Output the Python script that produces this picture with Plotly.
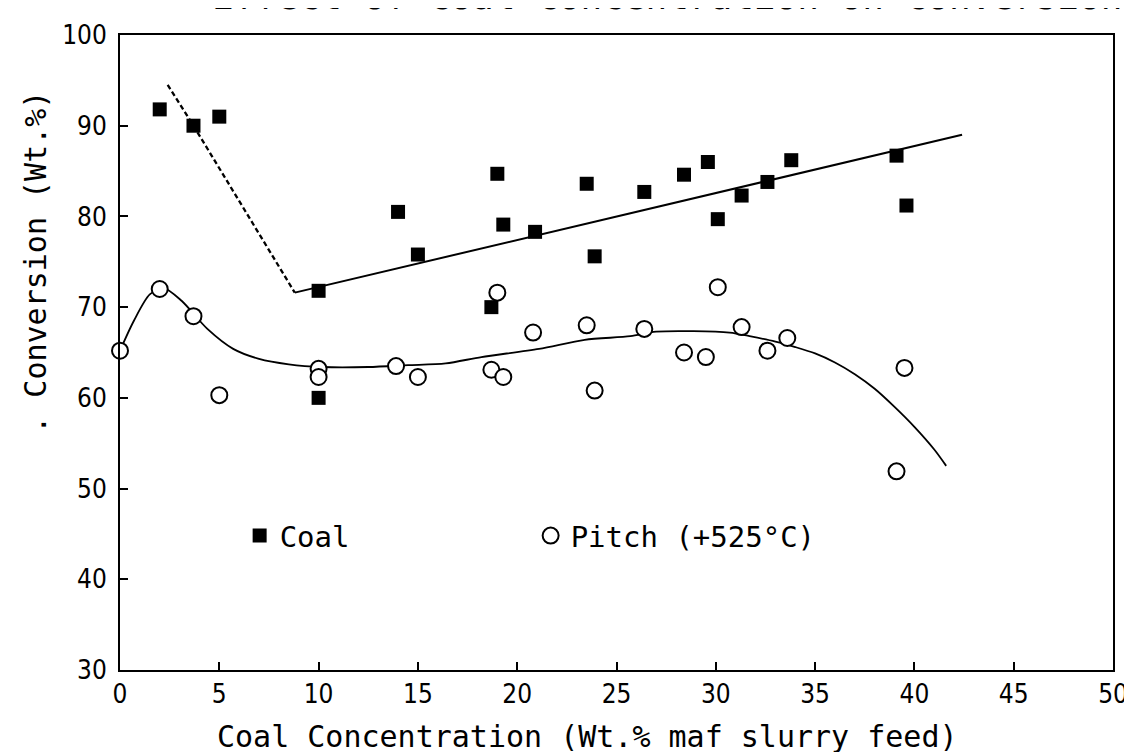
import plotly.graph_objects as go

# ---- data ----
coal_x = [2.0, 3.7, 5.0, 10.0, 10.0, 14.0, 15.0, 18.7, 19.0, 19.3, 20.9, 23.5, 23.9,
          26.4, 28.4, 29.6, 30.1, 31.3, 32.6, 33.8, 39.1, 39.6]
coal_y = [91.8, 90.0, 91.0, 71.8, 60.0, 80.5, 75.8, 70.0, 84.7, 79.1, 78.3, 83.6, 75.6,
          82.7, 84.6, 86.0, 79.7, 82.3, 83.8, 86.2, 86.7, 81.2]

pitch_x = [0.0, 2.0, 3.7, 5.0, 10.0, 10.0, 13.9, 15.0, 18.7, 19.0, 19.3, 20.8, 23.5,
           23.9, 26.4, 28.4, 29.5, 30.1, 31.3, 32.6, 33.6, 39.1, 39.5]
pitch_y = [65.2, 72.0, 69.0, 60.3, 63.2, 62.3, 63.5, 62.3, 63.1, 71.6, 62.3, 67.2, 68.0,
           60.8, 67.6, 65.0, 64.5, 72.2, 67.8, 65.2, 66.6, 51.9, 63.3]

# coal trend: dashed part and straight solid part
coal_dash_x = [2.4, 3.0, 3.7, 8.8]
coal_dash_y = [94.5, 92.4, 90.0, 71.6]
coal_fit_x = [8.8, 42.4]
coal_fit_y = [71.6, 89.0]

# pitch smoothed curve
pitch_fit_x = [0.0, 0.7, 1.5, 2.2, 3.1, 4.4, 5.7, 7.0, 8.5, 10.2, 12.5, 14.5, 16.4,
               18.2, 21.1, 23.4, 25.7, 27.0, 30.7, 31.7, 33.0, 34.0, 35.0, 36.0, 37.0,
               38.0, 39.0, 40.0, 41.0, 41.6]
pitch_fit_y = [65.2, 68.5, 71.4, 72.1, 70.7, 67.6, 65.4, 64.3, 63.7, 63.4, 63.4, 63.6, 63.8,
               64.5, 65.4, 66.4, 66.8, 67.3, 67.2, 66.8, 66.2, 65.6, 64.9, 63.9, 62.6,
               61.0, 59.0, 56.8, 54.3, 52.5]

x_ticks = [0, 5, 10, 15, 20, 25, 30, 35, 40, 45, 50]
y_ticks = [30, 40, 50, 60, 70, 80, 90, 100]

MONO = "DejaVu Sans Mono, monospace"
NARROW = "DejaVu Sans Condensed, DejaVu Sans, sans-serif"

L, R, T, B = 112, 24, 20, 90
PW = 1132 - L - R
PH = 752 - T - B
BOTTOM = 752 - B

fig = go.Figure()

fig.add_trace(go.Scatter(x=coal_dash_x, y=coal_dash_y, mode="lines",
                         line=dict(color="black", width=2.3, dash="5px,3px"),
                         showlegend=False, hoverinfo="skip"))
fig.add_trace(go.Scatter(x=coal_fit_x, y=coal_fit_y, mode="lines",
                         line=dict(color="black", width=2),
                         showlegend=False, hoverinfo="skip"))
fig.add_trace(go.Scatter(x=pitch_fit_x, y=pitch_fit_y, mode="lines",
                         line=dict(color="black", width=1.8, shape="spline", smoothing=0.8),
                         showlegend=False, hoverinfo="skip"))

fig.add_trace(go.Scatter(x=coal_x, y=coal_y, mode="markers", name="Coal",
                         marker=dict(symbol="square", size=14, color="black",
                                     line=dict(width=0)),
                         cliponaxis=False))
fig.add_trace(go.Scatter(x=pitch_x, y=pitch_y, mode="markers", name="Pitch (+525°C)",
                         marker=dict(symbol="circle", size=16, color="white",
                                     line=dict(width=2, color="black")),
                         cliponaxis=False))

fig.update_layout(
    width=1132, height=752,
    margin=dict(l=L, r=R, t=T, b=B),
    paper_bgcolor="white", plot_bgcolor="white",
    font=dict(family=MONO, color="black"),
    showlegend=True,
    legend=dict(orientation="h", x=(232 - L) / PW, y=(44.8 - 30) / 70,
                xanchor="left", yanchor="middle",
                entrywidth=246, entrywidthmode="pixels",
                font=dict(family=MONO, size=29, color="black"),
                bgcolor="rgba(0,0,0,0)", borderwidth=0),
    annotations=[
        dict(text="Effect of Coal Concentration on Conversion",
             xref="paper", yref="paper", x=(202 - L) / PW, y=1 + (T - 4) / PH,
             xanchor="left", yanchor="bottom", showarrow=False,
             font=dict(family=MONO, size=36, color="black")),
        dict(text="Coal Concentration (Wt.% maf slurry feed)",
             xref="paper", yref="paper", x=(581 - L) / PW, y=-(729 - BOTTOM) / PH,
             xanchor="center", yanchor="middle", showarrow=False,
             font=dict(family=MONO, size=30, color="black")),
        dict(text=". Conversion (Wt.%)",
             xref="paper", yref="paper", x=-(L - 27) / PW, y=(BOTTOM - 250) / PH,
             xanchor="center", yanchor="middle", showarrow=False, textangle=-90,
             font=dict(family=MONO, size=30, color="black")),
    ],
)

fig.update_xaxes(range=[0, 50], tickvals=x_ticks, ticktext=[str(v) for v in x_ticks],
                 ticks="inside", ticklen=8, tickwidth=1.5, tickcolor="black",
                 showline=True, linecolor="black", linewidth=2, mirror=True,
                 showgrid=False, zeroline=False, ticklabelstandoff=0,
                 tickfont=dict(family=NARROW, size=26, color="black"))
fig.update_yaxes(range=[30, 100], tickvals=y_ticks, ticktext=[str(v) for v in y_ticks],
                 ticks="inside", ticklen=8, tickwidth=1.5, tickcolor="black",
                 showline=True, linecolor="black", linewidth=2, mirror=True,
                 showgrid=False, zeroline=False, ticklabelstandoff=6,
                 tickfont=dict(family=NARROW, size=26, color="black"))

fig.write_html("out.html")
